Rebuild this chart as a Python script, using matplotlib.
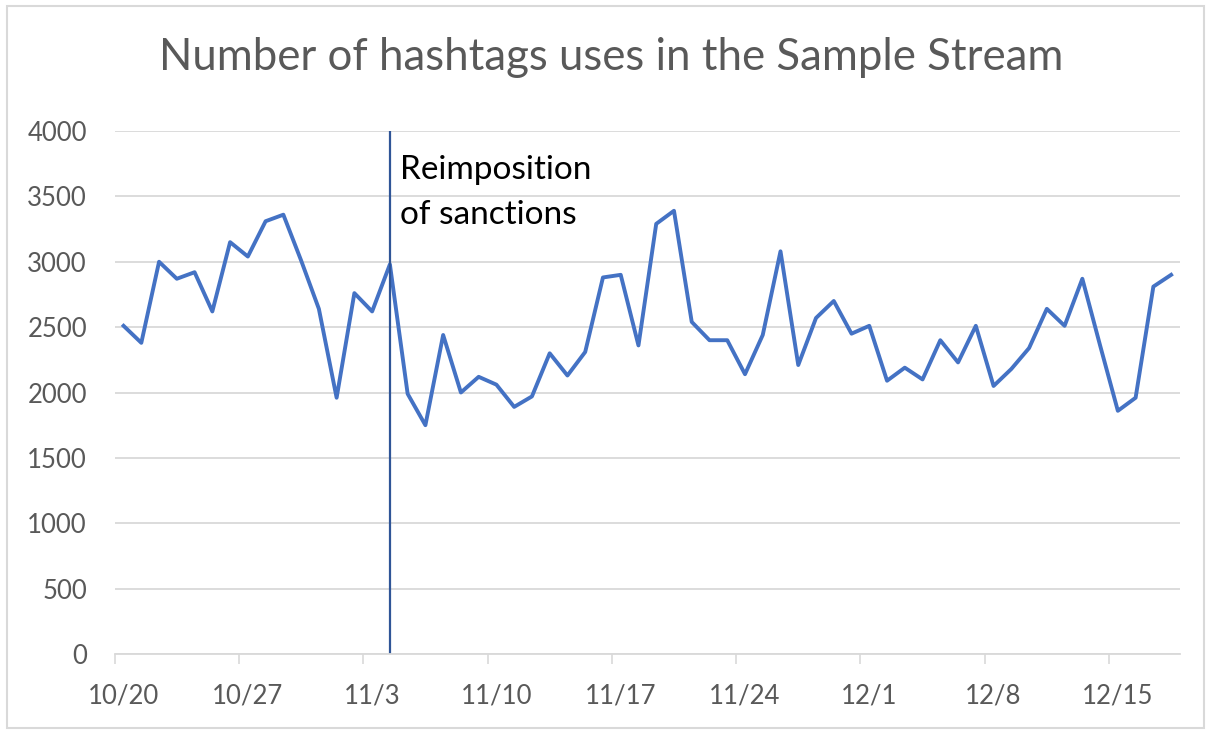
import numpy as np
import matplotlib.pyplot as plt
from matplotlib.patches import Rectangle

# daily counts, 10/20 .. 12/18
counts = [2510, 2380, 3000, 2870, 2920, 2620, 3150, 3040, 3310, 3360,
          3010, 2640, 1960, 2760, 2620, 2980, 1990, 1750, 2440, 2000,
          2120, 2060, 1890, 1970, 2300, 2130, 2310, 2880, 2900, 2360,
          3290, 3390, 2540, 2400, 2400, 2140, 2440, 3080, 2210, 2570,
          2700, 2450, 2510, 2090, 2190, 2100, 2400, 2230, 2510, 2050,
          2180, 2340, 2640, 2510, 2870, 2360, 1860, 1960, 2810, 2900]
date_labels = ['10/20', '10/27', '11/3', '11/10', '11/17', '11/24', '12/1', '12/8', '12/15']
yticks = [0, 500, 1000, 1500, 2000, 2500, 3000, 3500, 4000]
event_day = 15
event_text = 'Reimposition\nof sanctions'

plt.rcParams['font.family'] = ['Lato', 'DejaVu Sans']

days = np.arange(len(counts))

fig = plt.figure(figsize=(12.11, 7.34), dpi=100)
fig.patches.append(Rectangle((0.006, 0.008), 0.988, 0.984, transform=fig.transFigure,
                             fill=False, edgecolor='#d9d9d9', linewidth=1.5))
ax = fig.add_axes([0.0947, 0.109, 0.8797, 0.7125])

ax.plot(days, counts, color='#4472c4', linewidth=2.8, solid_joinstyle='round')
ax.axvline(event_day, color='#2f5597', linewidth=1.6)
ax.text(event_day + 0.55, 3815, event_text, fontsize=24, color='black',
        va='top', ha='left', linespacing=1.6)

ax.set_xlim(-0.5, len(counts) - 0.5)
ax.set_ylim(0, 4000)
ax.set_yticks(yticks)
ax.set_yticklabels([str(v) for v in yticks])
ax.set_xticks(np.arange(0, len(counts), 7))
ax.set_xticklabels(date_labels)
ax.set_xticks(np.arange(-0.5, len(counts), 7), minor=True)
ax.tick_params(axis='x', which='major', length=0, pad=21, labelsize=18.5, labelcolor='#595959')
ax.tick_params(axis='x', which='minor', length=7, width=1.2, color='#d9d9d9')
ax.tick_params(axis='y', length=0, pad=20, labelsize=18.5, labelcolor='#595959')

ax.grid(axis='y', color='#d9d9d9', linewidth=1.3)
ax.set_axisbelow(True)
for s in ['top', 'right', 'left']:
    ax.spines[s].set_visible(False)
ax.spines['bottom'].set_color('#d9d9d9')
ax.spines['bottom'].set_linewidth(1.3)

fig.text(0.5045, 0.921, 'Number of hashtags uses in the Sample Stream',
         ha='center', va='center', fontsize=31.5, color='#595959')

plt.savefig('out.png', dpi=100)
